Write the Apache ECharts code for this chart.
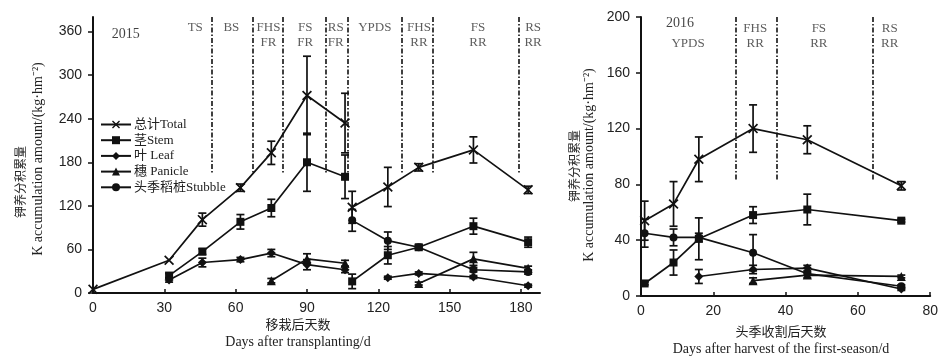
<!DOCTYPE html>
<html>
<head>
<meta charset="utf-8">
<script src="https://cdn.jsdelivr.net/npm/echarts@6/dist/echarts.min.js"></script>
<style>
html,body{margin:0;padding:0;background:#fff;}
#chart{width:941px;height:357px;}
</style>
</head>
<body>
<div id="chart"></div>
<script>
// ---------- DATA ----------
const seriesNames = ['总计Total', '茎Stem', '叶 Leaf', '穗 Panicle', '头季稻桩Stubble'];

// 2015 – first season (days after transplanting)
const days2015First = [0, 32, 46, 62, 75, 90, 106];
const total2015First = [5, 45, 101, 145, 193, 272, 234];
const total2015FirstErr = [0, 0, 9, 5, 16, 54, 41];
const stem2015First = [null, 24, 57, 98, 117, 180, 160];
const stem2015FirstErr = [0, 3, 4, 10, 12, 40, 30];
const leaf2015First = [null, 18, 42, 46, 55, 39, 32];
const leaf2015FirstErr = [0, 3, 6, 3, 5, 7, 4];
const panicle2015First = [null, null, null, null, 17, 47, 41];
const panicle2015FirstErr = [0, 0, 0, 0, 3, 7, 4];
const stubble2015First = [null, null, null, null, null, null, null];
const stubble2015FirstErr = [0, 0, 0, 0, 0, 0, 0];

// 2015 – ratoon season
const days2015Ratoon = [109, 124, 137, 160, 183];
const total2015Ratoon = [118, 146, 173, 197, 142];
const total2015RatoonErr = [22, 27, 5, 18, 5];
const stem2015Ratoon = [16, 52, 63, 92, 70];
const stem2015RatoonErr = [10, 12, 3, 11, 7];
const leaf2015Ratoon = [null, 21, 27, 22, 10];
const leaf2015RatoonErr = [0, 2, 2, 2, 2];
const panicle2015Ratoon = [null, null, 13, 47, 34];
const panicle2015RatoonErr = [0, 0, 2, 9, 3];
const stubble2015Ratoon = [100, 72, 63, 32, 29];
const stubble2015RatoonErr = [15, 12, 3, 3, 3];

// 2016 (days after harvest of the first season)
const days2016 = [1, 9, 16, 31, 46, 72];
const total2016 = [54, 66, 98, 120, 112, 79];
const total2016Err = [14, 16, 16, 17, 10, 3];
const stem2016 = [9, 24, 41, 58, 62, 54];
const stem2016Err = [1, 9, 15, 6, 11, 1];
const leaf2016 = [null, null, 14, 19, 20, 5];
const leaf2016Err = [0, 0, 5, 3, 2, 1];
const panicle2016 = [null, null, null, 11, 15, 14];
const panicle2016Err = [0, 0, 0, 2, 2, 1];
const stubble2016 = [45, 42, 42, 31, 16, 7];
const stubble2016Err = [10, 6, 3, 13, 0, 1];

// stage dividers and labels
const dividers2015 = [50, 67, 80, 98, 107, 130, 143, 179];
const stages2015 = ['TS', 'BS', 'FHS\nFR', 'FS\nFR', 'RS\nFR', 'YPDS', 'FHS\nRR', 'FS\nRR', 'RS\nRR'];
const stageX2015 = [43, 58.2, 73.8, 89.3, 102.1, 118.5, 137.1, 161.9, 185.1];
const dividers2016 = [26.1, 37.6, 64.1];
const stages2016 = ['FHS\nRR', 'FS\nRR', 'RS\nRR'];
const stageX2016 = [31.6, 49.2, 68.8];

const xTicks2015 = [0, 30, 60, 90, 120, 150, 180];
const yTicks2015 = [0, 60, 120, 180, 240, 300, 360];
const xTicks2016 = [0, 20, 40, 60, 80];
const yTicks2016 = [0, 40, 80, 120, 160, 200];

// ---------- STYLE ----------
const serif = '"Liberation Serif", "Times New Roman", serif';
const cjkSerif = '"Liberation Serif", "Noto Sans CJK SC", serif';
const sans = '"Liberation Sans", Arial, sans-serif';
const ink = '#111';
const xMark = 'path://M0,1.2L1.2,0L5,3.8L8.8,0L10,1.2L6.2,5L10,8.8L8.8,10L5,6.2L1.2,10L0,8.8L3.8,5Z';
const symbols = [xMark, 'rect', 'diamond', 'triangle', 'circle'];
const symbolSizes = [10, 8, 9, 9, 8];

const groups2015First = [
  [total2015First, total2015FirstErr], [stem2015First, stem2015FirstErr],
  [leaf2015First, leaf2015FirstErr], [panicle2015First, panicle2015FirstErr],
  [stubble2015First, stubble2015FirstErr]];
const groups2015Ratoon = [
  [total2015Ratoon, total2015RatoonErr], [stem2015Ratoon, stem2015RatoonErr],
  [leaf2015Ratoon, leaf2015RatoonErr], [panicle2015Ratoon, panicle2015RatoonErr],
  [stubble2015Ratoon, stubble2015RatoonErr]];
const groups2016 = [
  [total2016, total2016Err], [stem2016, stem2016Err], [leaf2016, leaf2016Err],
  [panicle2016, panicle2016Err], [stubble2016, stubble2016Err]];

function pts(days, vals) {
  const out = [];
  days.forEach((d, i) => { if (vals[i] !== null) out.push([d, vals[i]]); });
  return out;
}
function errPts(days, vals, errs) {
  const out = [];
  days.forEach((d, i) => { if (vals[i] !== null && errs[i] > 0) out.push([d, vals[i], errs[i]]); });
  return out;
}

function errorBarRender(params, api) {
  const x = api.value(0), y = api.value(1), e = api.value(2);
  const top = api.coord([x, y + e]);
  const bot = api.coord([x, y - e]);
  const hw = 4;
  const st = { stroke: ink, lineWidth: 1.7 };
  return {
    type: 'group',
    children: [
      { type: 'line', shape: { x1: top[0], y1: top[1], x2: bot[0], y2: bot[1] }, style: st },
      { type: 'line', shape: { x1: top[0] - hw, y1: top[1], x2: top[0] + hw, y2: top[1] }, style: st },
      { type: 'line', shape: { x1: bot[0] - hw, y1: bot[1], x2: bot[0] + hw, y2: bot[1] }, style: st }
    ]
  };
}

const series = [];
// 2015 lines
seriesNames.forEach((name, k) => {
  const data = pts(days2015First, groups2015First[k][0]);
  const rat = pts(days2015Ratoon, groups2015Ratoon[k][0]);
  if (data.length && rat.length) data.push([107.5, null]);
  series.push({
    type: 'line', name, xAxisIndex: 0, yAxisIndex: 0,
    data: data.concat(rat), symbol: symbols[k], symbolSize: symbolSizes[k],
    showAllSymbol: true, connectNulls: false, clip: false,
    lineStyle: { color: ink, width: 1.7 }, itemStyle: { color: ink },
    z: 3
  });
  series.push({
    type: 'custom', name, xAxisIndex: 0, yAxisIndex: 0,
    data: errPts(days2015First, groups2015First[k][0], groups2015First[k][1])
      .concat(errPts(days2015Ratoon, groups2015Ratoon[k][0], groups2015Ratoon[k][1])),
    renderItem: errorBarRender, encode: { x: 0, y: 1 }, silent: true, z: 2
  });
});
// 2016 lines
seriesNames.forEach((name, k) => {
  series.push({
    type: 'line', name, xAxisIndex: 1, yAxisIndex: 1,
    data: pts(days2016, groups2016[k][0]), symbol: symbols[k], symbolSize: symbolSizes[k],
    showAllSymbol: true, clip: false,
    lineStyle: { color: ink, width: 1.7 }, itemStyle: { color: ink }, z: 3
  });
  series.push({
    type: 'custom', name, xAxisIndex: 1, yAxisIndex: 1,
    data: errPts(days2016, groups2016[k][0], groups2016[k][1]),
    renderItem: errorBarRender, encode: { x: 0, y: 1 }, silent: true, z: 2
  });
});

const dashDot = { color: ink, width: 1.6, type: [5, 2, 1.5, 2] };
// dividers
series.push({
  type: 'line', xAxisIndex: 0, yAxisIndex: 0, data: [], silent: true,
  markLine: {
    symbol: 'none', silent: true, label: { show: false }, lineStyle: dashDot,
    data: dividers2015.map(d => [{ coord: [d, 380] }, { coord: [d, 166] }])
  }
});
series.push({
  type: 'line', xAxisIndex: 1, yAxisIndex: 1, data: [], silent: true,
  markLine: {
    symbol: 'none', silent: true, label: { show: false }, lineStyle: dashDot,
    data: dividers2016.map(d => [{ coord: [d, 200] }, { coord: [d, 83] }])
  }
});

const stageLabel = {
  show: true, position: 'inside', formatter: '{b}', color: '#333',
  fontFamily: serif, fontSize: 13, lineHeight: 15
};
// stage labels
series.push({
  type: 'scatter', xAxisIndex: 0, yAxisIndex: 0, symbolSize: 1, silent: true,
  itemStyle: { color: 'rgba(0,0,0,0)' }, label: stageLabel,
  data: stages2015.map((s, i) => ({ name: s, value: [stageX2015[i], s.indexOf('\n') >= 0 ? 355.5 : 366] }))
    .concat([{ name: '2015', value: [13.8, 356], label: { fontSize: 14, color: '#111' } }])
});
series.push({
  type: 'scatter', xAxisIndex: 1, yAxisIndex: 1, symbolSize: 1, silent: true,
  itemStyle: { color: 'rgba(0,0,0,0)' }, label: stageLabel,
  data: stages2016.map((s, i) => ({ name: s, value: [stageX2016[i], 186] }))
    .concat([{ name: '2016', value: [10.8, 195.7], label: { fontSize: 14, color: '#111' } },
             { name: 'YPDS', value: [13, 181.3] }])
});

const axisLine = { show: true, lineStyle: { color: ink, width: 2 } };
const tickLabel = { color: '#222', fontFamily: sans, fontSize: 14 };

function xAxisCfg(grid, max, interval, ticks) {
  return {
    type: 'value', gridIndex: grid, min: 0, max, interval,
    axisLine, splitLine: { show: false },
    axisTick: { show: true, inside: true, length: 4, lineStyle: { color: ink, width: 1.5 }, customValues: ticks },
    axisLabel: Object.assign({ margin: 8, customValues: ticks }, tickLabel)
  };
}
function yAxisCfg(grid, max, interval, ticks) {
  return {
    type: 'value', gridIndex: grid, min: 0, max, interval,
    axisLine, splitLine: { show: false },
    axisTick: { show: true, inside: false, length: 5, lineStyle: { color: ink, width: 1.5 }, customValues: ticks },
    axisLabel: Object.assign({ margin: 11, customValues: ticks }, tickLabel)
  };
}

function vtext(text, x, y, font, size) {
  return {
    type: 'text', x, y, rotation: Math.PI / 2,
    style: { text, fontFamily: font, fontSize: size, fill: '#222', align: 'center', verticalAlign: 'middle' }
  };
}
function htext(text, x, y, font, size) {
  return {
    type: 'text', x, y,
    style: { text, fontFamily: font, fontSize: size, fill: '#222', align: 'center', verticalAlign: 'middle' }
  };
}

const option = {
  animation: false,
  backgroundColor: '#fff',
  grid: [
    { left: 93, right: 401, top: 17, bottom: 64, containLabel: false },
    { left: 641, right: 10, top: 17, bottom: 61, containLabel: false }
  ],
  xAxis: [xAxisCfg(0, 188, 30, xTicks2015), xAxisCfg(1, 80, 20, xTicks2016)],
  yAxis: [yAxisCfg(0, 380, 60, yTicks2015), yAxisCfg(1, 200, 40, yTicks2016)],
  legend: {
    show: true, data: seriesNames, orient: 'vertical', left: 100, top: 118, padding: 0,
    itemWidth: 30, itemHeight: 10, itemGap: 2.7, selectedMode: false,
    textStyle: { fontFamily: cjkSerif, fontSize: 13, color: '#222', padding: [0, 0, 0, -2] }
  },
  graphic: [
    vtext('钾养分积累量', 20, 182, '"Noto Sans CJK SC", serif', 12),
    vtext('K accumulation amount/(kg·hm⁻²)', 38, 159, serif, 14),
    vtext('钾养分积累量', 574, 166, '"Noto Sans CJK SC", serif', 12),
    vtext('K accumulation amount/(kg·hm⁻²)', 589, 165, serif, 14),
    htext('移栽后天数', 298, 324, '"Noto Sans CJK SC", serif', 13),
    htext('Days after transplanting/d', 298, 342, serif, 14),
    htext('头季收割后天数', 781, 331, '"Noto Sans CJK SC", serif', 13),
    htext('Days after harvest of the first-season/d', 781, 349, serif, 14)
  ],
  series
};

const chart = echarts.init(document.getElementById('chart'), null, { renderer: 'canvas' });
chart.setOption(option);
</script>
</body>
</html>
